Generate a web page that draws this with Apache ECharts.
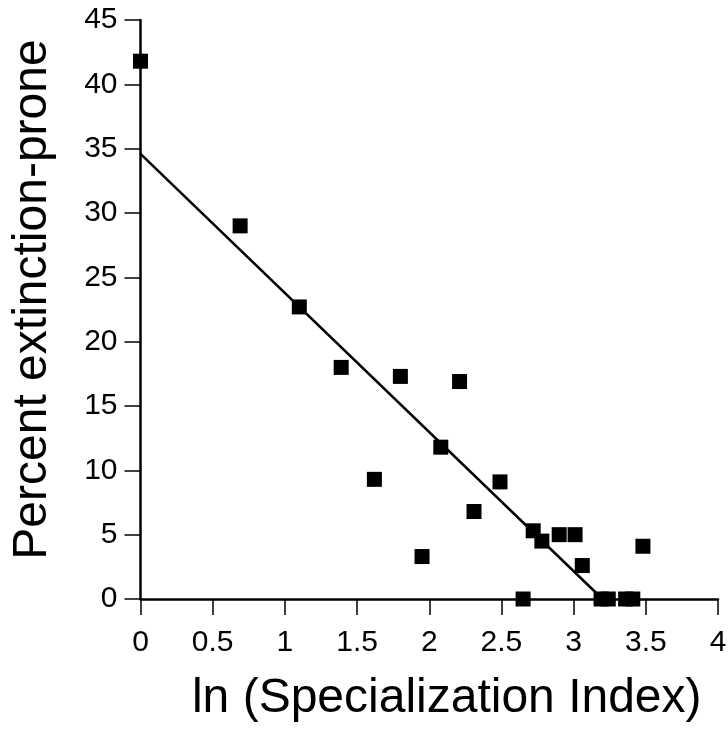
<!DOCTYPE html>
<html>
<head>
<meta charset="utf-8">
<script src="https://cdn.jsdelivr.net/npm/echarts@6/dist/echarts.min.js"></script>
<style>
  html, body { margin: 0; padding: 0; background: #fff; }
  #chart { width: 728px; height: 732px; }
</style>
</head>
<body>
<div id="chart"></div>
<script>
// ln(specialization index) vs percent extinction-prone
var xVals = [0, 0.69, 1.10, 1.39, 1.62, 1.80, 1.95, 2.08, 2.21, 2.31, 2.49, 2.65, 2.72, 2.78, 2.90, 3.01, 3.06, 3.19, 3.24, 3.36, 3.41, 3.48];
var yVals = [41.8, 29.0, 22.7, 18.0, 9.3, 17.3, 3.3, 11.8, 16.9, 6.8, 9.1, 0, 5.3, 4.5, 5.0, 5.0, 2.6, 0, 0, 0, 0, 4.1];
// fitted line end points
var fitX = [0, 3.2];
var fitY = [34.6, 0];

var pts = xVals.map(function (x, i) { return [x, yVals[i]]; });
var fit = fitX.map(function (x, i) { return [x, fitY[i]]; });

var font = 'Liberation Sans, Arial, sans-serif';
var chart = echarts.init(document.getElementById('chart'));
chart.setOption({
  animation: false,
  grid: { left: 140.5, right: 10, top: 20, bottom: 133, outerBoundsMode: 'none', containLabel: false },
  xAxis: {
    type: 'value', min: 0, max: 4, interval: 0.5,
    name: 'ln (Specialization Index)',
    nameLocation: 'middle', nameGap: 76,
    nameTextStyle: { fontFamily: font, fontSize: 48, color: '#000', padding: [0, 0, 0, 35] },
    axisLine: { lineStyle: { color: '#000', width: 2.5 } },
    axisTick: { length: 16, lineStyle: { color: '#000', width: 1.5 } },
    axisLabel: { margin: 29, fontFamily: font, fontSize: 30, color: '#000' },
    splitLine: { show: false }
  },
  yAxis: {
    type: 'value', min: 0, max: 45, interval: 5,
    name: 'Percent extinction-prone',
    nameLocation: 'middle', nameGap: 84,
    nameTextStyle: { fontFamily: font, fontSize: 48, color: '#000', padding: [0, 0, 0, 20] },
    axisLine: { lineStyle: { color: '#000', width: 2.5 } },
    axisTick: { length: 16, lineStyle: { color: '#000', width: 1.5 } },
    axisLabel: { margin: 23, fontFamily: font, fontSize: 30, color: '#000' },
    splitLine: { show: false }
  },
  series: [
    {
      type: 'line', data: fit, symbol: 'none', silent: true,
      lineStyle: { color: '#000', width: 2.5 }, z: 2
    },
    {
      type: 'scatter', data: pts, symbol: 'rect', symbolSize: 15,
      itemStyle: { color: '#000', opacity: 1 }, z: 3
    }
  ]
});
</script>
</body>
</html>
